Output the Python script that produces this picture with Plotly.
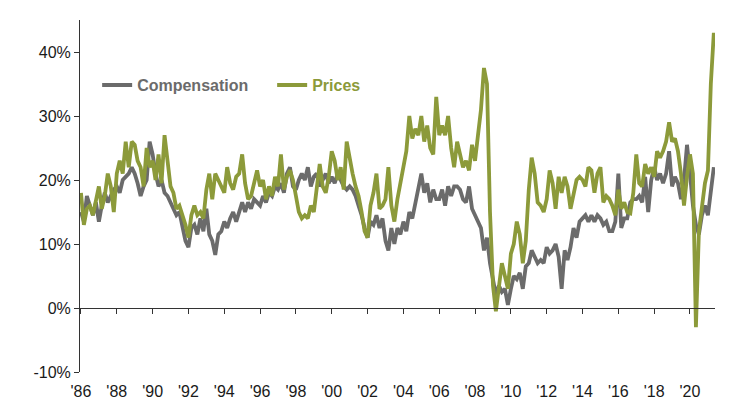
import pandas as pd
import plotly.graph_objects as go

# Bimonthly observations (Jan, Mar, May, Jul, Sep, Nov), 1986 .. May 2021, in %
compensation = [
    15, 13.5, 17.5, 16, 14.5, 16.5,      # 1986
    13.5, 16, 18, 16.5, 17.5, 18.5,      # 1987
    19, 18, 20, 20.5, 21, 22,            # 1988
    21, 19.5, 17.5, 19, 20, 26,          # 1989
    24, 21, 19, 20, 18, 17.5,            # 1990
    16.5, 15.5, 14.5, 15, 12.5, 10.5,    # 1991
    9.5, 12.5, 13, 11.5, 14, 12,         # 1992
    15.5, 11.5, 10.5, 8.3, 11.5, 12,     # 1993
    13.5, 12.5, 14, 15, 13.5, 15,        # 1994
    16.5, 15, 16.5, 15.5, 17, 16.5,      # 1995
    16, 17.5, 16.5, 18, 17.5, 19,        # 1996
    18.5, 19.5, 18, 21, 22, 19,          # 1997
    18.5, 20, 21, 20, 22, 19,            # 1998
    20.5, 21, 19, 20, 21, 19.5,          # 1999
    20.5, 19.5, 21, 20, 19, 18.5,        # 2000
    19, 18.5, 17.5, 16, 14.5, 12.5,      # 2001
    11, 13.5, 13, 14.5, 12.5, 14,        # 2002
    10.5, 9, 12.5, 10, 12.5, 11.5,       # 2003
    13.5, 12, 15, 14, 16.5, 18.5,        # 2004
    21, 18, 19.5, 16.5, 18.5, 17,        # 2005
    17, 18.5, 16, 19, 17.5, 19,          # 2006
    19, 18.5, 17, 16.5, 19, 15.5,        # 2007
    14.5, 13.5, 12.5, 9, 11, 7,          # 2008
    4, 2, 3.5, 2.5, 3, 0.5,              # 2009
    3, 5, 4.5, 5.5, 3, 6.5,              # 2010
    7, 9, 8, 7, 7.5, 7,                  # 2011
    9.5, 8.5, 9, 10, 8, 3,               # 2012
    9, 7.5, 9.5, 12.5, 11, 13.5,         # 2013
    14, 14.5, 13.5, 14.5, 13.5, 14.5,    # 2014
    14, 13, 13.5, 12, 12, 13.5,          # 2015
    21, 12.5, 14, 14, 16.5, 17,          # 2016
    17, 17.5, 16.5, 20.5, 15, 20,        # 2017
    22, 20, 21, 19.5, 21, 24.5,          # 2018
    19, 20.5, 19.5, 17, 20, 25.5,        # 2019
    21, 16, 13, 11.5, 14.5, 16,          # 2020
    14.5, 18, 22,                        # 2021
]

prices = [
    18, 13, 15.5, 16, 14.5, 17,          # 1986
    19, 15.5, 17.5, 21, 19, 15,          # 1987
    21, 23, 21, 26, 22, 26,              # 1988
    25.5, 23, 22, 19, 25, 22,            # 1989
    23, 20, 24, 19.5, 27, 23,            # 1990
    19, 18, 15.5, 16, 14.5, 13,          # 1991
    11, 14.5, 16, 14.5, 15, 14,          # 1992
    18.5, 21, 17, 21, 20, 19,            # 1993
    18, 22, 19.5, 18.5, 20.5, 21,        # 1994
    24, 19.5, 17, 17.5, 19.5, 21.5,      # 1995
    19, 20, 17, 19, 17.5, 20.5,          # 1996
    19, 24, 18.5, 20.5, 21.5, 20,        # 1997
    17.5, 15, 14, 14.5, 14, 16,          # 1998
    15, 19, 22.5, 19, 18, 20.5,          # 1999
    24.5, 23, 20, 22, 18.5, 26,          # 2000
    23, 21, 19, 17.5, 15, 12,            # 2001
    11, 16, 18, 21, 15.5, 16,            # 2002
    17, 22, 16, 13.5, 17, 19.5,          # 2003
    22.5, 24.5, 30, 26.5, 28, 27,        # 2004
    30, 26, 28.5, 25, 24, 33,            # 2005
    27, 28.5, 27, 30, 25, 22,            # 2006
    26, 24, 22, 23, 21.5, 25.5,          # 2007
    23, 27, 31, 37.5, 35, 15,            # 2008
    3.5, -0.5, 3.5, 7, 5, 3,             # 2009
    8.5, 10, 13.5, 11.5, 7, 10.5,        # 2010
    18.5, 23.5, 21, 16.5, 16, 15,        # 2011
    17, 21.5, 19.5, 15.5, 20.5, 18,      # 2012
    20.5, 19, 15.5, 17.5, 20, 20.5,      # 2013
    20, 19, 22, 21.5, 18, 21,            # 2014
    22, 16.5, 17.5, 17, 16, 14.5,        # 2015
    18.5, 15.5, 16.5, 15, 14.8, 18,      # 2016
    24, 19.5, 19, 22.5, 21, 22,          # 2017
    20.5, 24.5, 23.5, 24.5, 26, 29,      # 2018
    26, 26.5, 24.5, 21, 16, 20.5,        # 2019
    24, 21, -3, 12, 15.5, 19.5,          # 2020
    21.5, 35, 43,                        # 2021
]

dates = pd.date_range("1986-01-01", periods=len(compensation), freq="2MS")

tick_years = list(range(1986, 2021, 2))
tick_vals = [f"{y}-01-01" for y in tick_years]
tick_labels = [f"'{str(y)[2:]}" for y in tick_years]

y_ticks = [-10, 0, 10, 20, 30, 40]
y_labels = [f"{v}%" for v in y_ticks]

GRAY = "#6b6b6b"
OLIVE = "#8c9a3a"
FONT = "Liberation Sans, Arial, sans-serif"
X_RANGE = ["1985-12-12", "2021-05-25"]
Y_RANGE = [-10, 45]

fig = go.Figure()
fig.add_trace(go.Scatter(
    x=dates, y=compensation, mode="lines",
    name=f'<b><span style="color:{GRAY}">Compensation</span></b>',
    line=dict(color=GRAY, width=3.8),
))
fig.add_trace(go.Scatter(
    x=dates, y=prices, mode="lines",
    name=f'<b><span style="color:{OLIVE}">Prices</span></b>',
    line=dict(color=OLIVE, width=3.8),
))
# helper trace so the zero-line axis is drawn
fig.add_trace(go.Scatter(x=[None], y=[None], xaxis="x2", showlegend=False,
                         hoverinfo="skip"))

fig.update_layout(
    width=724, height=397,
    margin=dict(l=72, r=17, t=12, b=33, autoexpand=False),
    paper_bgcolor="white", plot_bgcolor="white",
    font=dict(family=FONT, size=16, color="#1a1a1a"),
    showlegend=True,
    legend=dict(
        orientation="h", x=0.027, xanchor="left", y=0.815, yanchor="middle",
        font=dict(family=FONT, size=16), bgcolor="rgba(0,0,0,0)",
        entrywidth=130, itemwidth=30,
    ),
    xaxis=dict(
        type="date", range=X_RANGE, automargin=False,
        tickvals=tick_vals, ticktext=tick_labels,
        showline=False, showgrid=False, zeroline=False,
        ticks="outside", ticklen=5, tickcolor="rgba(0,0,0,0)",
        tickfont=dict(size=16),
    ),
    xaxis2=dict(
        type="date", range=X_RANGE, overlaying="x", automargin=False,
        anchor="free", position=10 / 55,
        tickvals=tick_vals, showticklabels=False,
        showline=True, linecolor="#333333", linewidth=1,
        ticks="outside", ticklen=5, tickcolor="#333333",
        showgrid=False, zeroline=False,
    ),
    yaxis=dict(
        range=Y_RANGE, tickvals=y_ticks, ticktext=y_labels, automargin=False,
        showline=True, linecolor="#333333", linewidth=1,
        ticks="outside", ticklen=5, tickcolor="#333333",
        showgrid=False, zeroline=False,
        tickfont=dict(size=16),
    ),
)

fig.write_html("out.html")
